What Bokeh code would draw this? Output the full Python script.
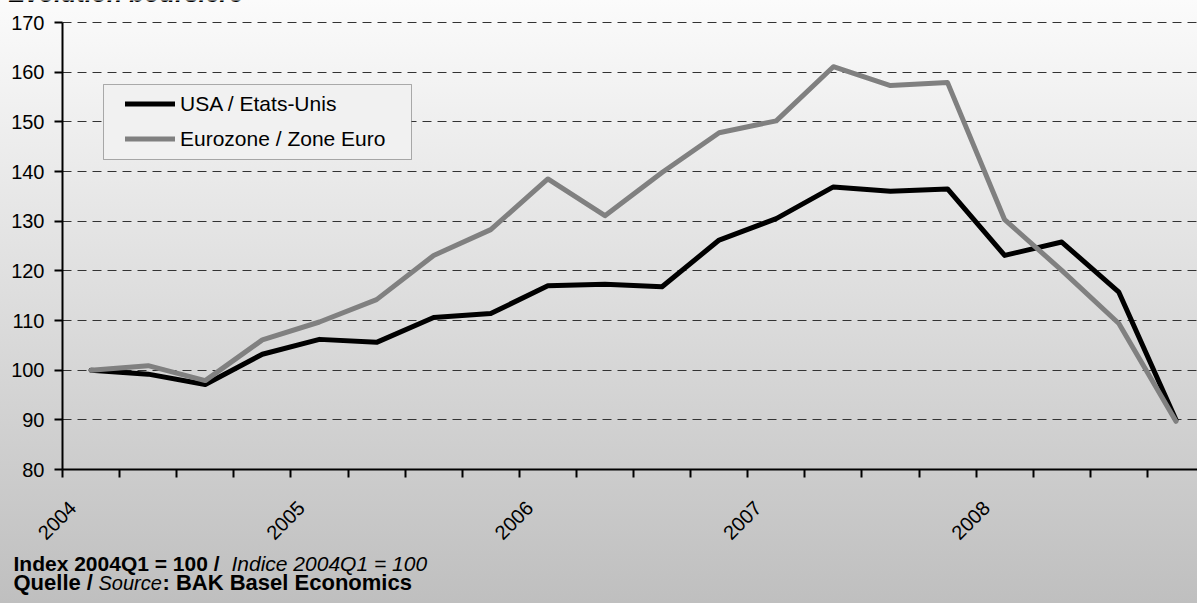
import math
from bokeh.plotting import figure
from bokeh.models import (FixedTicker, Legend, LegendItem, BoxAnnotation, Range1d,
                          ColumnDataSource, LinearAxis, Grid, Label)
from bokeh.embed import file_html
from bokeh.resources import INLINE

# ---- data ----
quarters = ["2004Q1", "2004Q2", "2004Q3", "2004Q4",
            "2005Q1", "2005Q2", "2005Q3", "2005Q4",
            "2006Q1", "2006Q2", "2006Q3", "2006Q4",
            "2007Q1", "2007Q2", "2007Q3", "2007Q4",
            "2008Q1", "2008Q2", "2008Q3", "2008Q4"]
usa = [100.0, 99.2, 97.1, 103.2, 106.2, 105.6, 110.6, 111.4, 117.0, 117.3,
       116.8, 126.2, 130.5, 136.9, 136.0, 136.5, 123.1, 125.8, 115.7, 90.0]
euro = [100.0, 100.9, 97.9, 106.1, 109.7, 114.2, 123.1, 128.3, 138.5, 131.1,
        139.8, 147.8, 150.2, 161.1, 157.3, 157.9, 130.3, 120.1, 109.4, 89.7]
year_labels = ["2004", "2005", "2006", "2007", "2008"]
y_ticks = [80, 90, 100, 110, 120, 130, 140, 150, 160, 170]
series_names = ["USA / Etats-Unis", "Eurozone / Zone Euro"]
title_text = "Evolution boursière"

FONT = "Liberation Sans"
W, H = 1197, 603

# ---- layout geometry (pixels): the frame covers the whole canvas ----
PX_LEFT = 62          # pixel x of the y axis
PX_CAT = 57.1         # pixel width of one quarter
PX_TOP = 22           # pixel y of the top tick
PX_BOT = 469          # pixel y of the bottom tick (x axis)
y_lo, y_hi = y_ticks[0], y_ticks[-1]
py = (PX_BOT - PX_TOP) / (y_hi - y_lo)
x_range = Range1d(-PX_LEFT / PX_CAT, (W - PX_LEFT) / PX_CAT)
y_range = Range1d(y_lo - (H - PX_BOT) / py, y_hi + PX_TOP / py)
n = len(quarters)

p = figure(width=W, height=H, x_range=x_range, y_range=y_range,
           output_backend="svg", toolbar_location=None,
           x_axis_location=None, y_axis_location=None, min_border=0,
           border_fill_color=None, background_fill_color=None, outline_line_color=None,
           styles={"background": "linear-gradient(to bottom, #fbfbfb 0%, #bfbfbf 100%)"})
p.xgrid.visible = False
p.ygrid.visible = False

# horizontal dashed grid (only over the plotting area)
yt = FixedTicker(ticks=y_ticks)
grid_kw = dict(dimension=1, ticker=yt, bounds=(y_lo, y_hi),
               grid_line_color="#333333", grid_line_width=1, grid_line_dash="9 6")
if "cross_bounds" in Grid.properties():
    grid_kw["cross_bounds"] = (0, n)
p.add_layout(Grid(**grid_kw))

# y axis
yaxis = LinearAxis(fixed_location=0, bounds=(y_lo, y_hi), ticker=yt,
                   axis_line_width=2, axis_line_color="black",
                   major_tick_out=8, major_tick_in=0, major_tick_line_width=2,
                   major_tick_line_color="black", minor_tick_out=0, minor_tick_in=0,
                   major_label_text_font=FONT, major_label_text_font_size="20px",
                   major_label_text_color="black", major_label_standoff=10)
p.add_layout(yaxis, "left")

# x axis: ticks between quarters, year labels under first quarter of each year
year_pos = [quarters.index(y + "Q1") + 0.18 for y in year_labels]
boundaries = list(range(n + 1))
xaxis = LinearAxis(fixed_location=y_lo, bounds=(0, n),
                   ticker=FixedTicker(ticks=year_pos, minor_ticks=boundaries),
                   major_label_overrides={pos: lab for pos, lab in zip(year_pos, year_labels)},
                   axis_line_width=2, axis_line_color="black",
                   major_tick_out=0, major_tick_in=0,
                   minor_tick_out=8, minor_tick_in=0, minor_tick_line_width=2,
                   minor_tick_line_color="black",
                   major_label_orientation=math.pi / 4,
                   major_label_text_font=FONT, major_label_text_font_size="20px",
                   major_label_text_color="black", major_label_standoff=27)
p.add_layout(xaxis, "below")

# lines
xpos = [quarters.index(q) + 0.5 for q in quarters]
src = ColumnDataSource(dict(x=xpos, usa=usa, euro=euro))
r_usa = p.line("x", "usa", source=src, line_color="black", line_width=5,
               line_join="round", line_cap="round")
r_eu = p.line("x", "euro", source=src, line_color="#808080", line_width=5,
              line_join="round", line_cap="round")

# legend (box drawn separately for exact padding)
box = BoxAnnotation(left=103, right=411, top=H - 84, bottom=H - 159,
                    left_units="screen", right_units="screen",
                    top_units="screen", bottom_units="screen",
                    fill_color="#f1f1f1", fill_alpha=1,
                    line_color="black", line_width=1)
p.add_layout(box)

legend = Legend(items=[LegendItem(label=series_names[0], renderers=[r_usa]),
                       LegendItem(label=series_names[1], renderers=[r_eu])],
                location=(125, H - 151), padding=0, margin=0, spacing=10,
                label_height=25, glyph_height=25, glyph_width=50, label_standoff=5,
                border_line_alpha=0, background_fill_alpha=0,
                label_text_font=FONT, label_text_font_size="21px", label_text_color="black")
p.add_layout(legend)

# texts placed by their vertical middle (pixel y from the top)
def lab(x, y, text, style, size):
    p.add_layout(Label(x=x, y=H - y, x_units="screen", y_units="screen", text=text,
                       text_font=FONT, text_font_style=style, text_font_size=size,
                       text_baseline="middle", text_align="left", text_color="black"))

# title (cut off by the top edge, as in the original)
lab(8, -8, title_text, "bold italic", "25px")

# footer
lab(13, 563, "Index 2004Q1 = 100 / ", "bold", "21px")
lab(231, 563, "Indice 2004Q1 = 100", "italic", "21px")
lab(13, 582, "Quelle / ", "bold", "22px")
lab(98, 582, "Source", "italic", "20px")
lab(162, 582, ": BAK Basel Economics", "bold", "22px")

open("out.html", "w").write(file_html(p, INLINE))
